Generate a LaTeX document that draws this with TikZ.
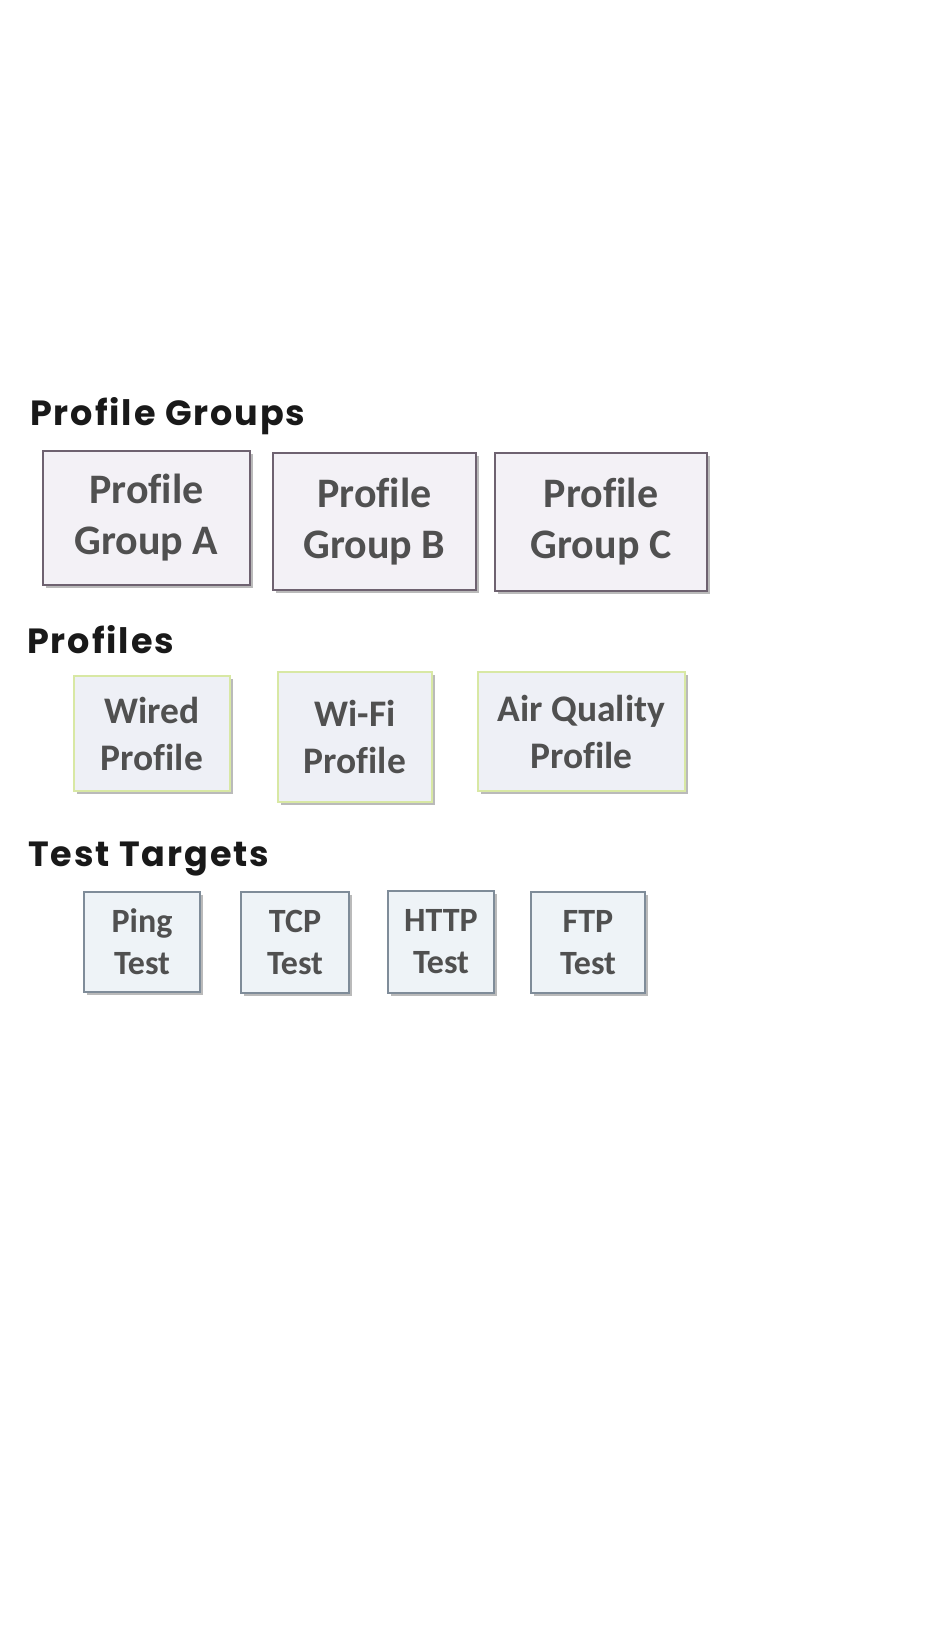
\documentclass[tikz,border=0pt]{standalone}
\usepackage{fontspec}
\setmainfont{Carlito}[Ligatures=NoCommon]
\newfontfamily\headfont{Poppins}[LetterSpace=5.5]
\usetikzlibrary{shadows}
\definecolor{grpline}{HTML}{6E6270}
\definecolor{grpfill}{HTML}{F3F1F6}
\definecolor{profline}{HTML}{D8E8A4}
\definecolor{proffill}{HTML}{EEF0F6}
\definecolor{testline}{HTML}{7F8C99}
\definecolor{testfill}{HTML}{EEF3F7}
\definecolor{boxtext}{HTML}{505050}
\begin{document}
\begin{tikzpicture}[x=1pt,y=-1pt,
	head/.style={anchor=base west,inner sep=0pt,text=black!90,font=\headfont\bfseries\fontsize{35}{35}\selectfont},
	box/.style={draw,line width=1.5pt,align=center,inner sep=0pt,text=boxtext,
		drop shadow={shadow xshift=3pt,shadow yshift=-3pt,opacity=.45,fill=black!60}},
	grp/.style={box,draw=grpline,fill=grpfill,font=\bfseries\fontsize{42}{51}\selectfont},
	prof/.style={box,draw=profline,fill=proffill,font=\bfseries\fontsize{37.5}{47}\selectfont},
	tst/.style={box,draw=testline,fill=testfill,font=\bfseries\fontsize{34}{42}\selectfont}]
	\useasboundingbox (0,0) rectangle (950,1642);
	
	% groups
	\node [head] (hgroups) at (30,425) {Profile Groups};
	\node [grp,minimum width=207pt,minimum height=134pt] (grpA) at (146.5,518) {Profile\\Group A};
	\node [grp,minimum width=203pt,minimum height=137pt] (grpB) at (374.5,521.5) {Profile\\Group B};
	\node [grp,minimum width=212pt,minimum height=138pt] (grpC) at (601,522) {Profile\\Group C};
	
	% profiles
	\node [head] (hprofiles) at (27,653) {Profiles};
	\node [prof,minimum width=156pt,minimum height=115pt] (wired) at (152,733.5) {Wired\\Profile};
	\node [prof,minimum width=154pt,minimum height=130pt] (wifi) at (355,737) {Wi-Fi\\Profile};
	\node [prof,minimum width=207pt,minimum height=119pt] (airq) at (581.5,731.5) {Air Quality\\Profile};
	
	% test targets
	\node [head] (htargets) at (28,866) {Test Targets};
	\node [tst,minimum width=116pt,minimum height=100pt] (ping) at (142,942) {Ping\\Test};
	\node [tst,minimum width=108pt,minimum height=101pt] (tcp) at (295,942.5) {TCP\\Test};
	\node [tst,minimum width=106pt,minimum height=102pt] (http) at (441,942) {HTTP\\Test};
	\node [tst,minimum width=114pt,minimum height=101pt] (ftp) at (588,942.5) {FTP\\Test};
	
\end{tikzpicture}
\end{document}
